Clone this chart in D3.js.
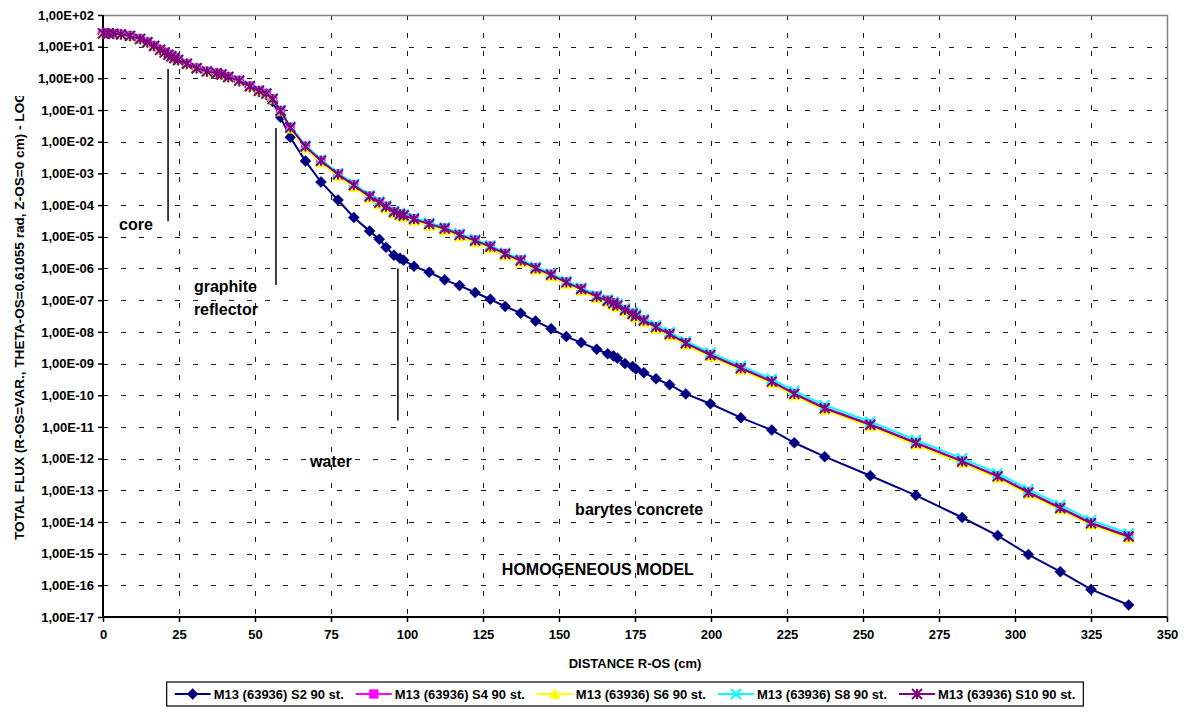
<!DOCTYPE html>
<html>
<head>
<meta charset="utf-8">
<script src="https://cdn.jsdelivr.net/npm/d3@7"></script>
<style>
  body { margin: 0; background: #fff; }
  svg text { font-family: "Liberation Sans", Arial, Helvetica, sans-serif; font-weight: bold; fill: #000; }
</style>
</head>
<body>
<svg id="chart" width="1184" height="713"></svg>
<script>
// Radial distance from the core centre (cm), shared by all five runs
const distance = [
  0, 1.8, 3.4, 5.9, 8.9, 12.2, 14.6, 16.8, 18.8, 20.3,
  21.5, 22.5, 23.5, 24.7, 27.6, 30.8, 34.2, 37.4, 39.0, 41.2,
  44.8, 48.3, 51.3, 53.7, 55.8, 58.4, 61.6, 66.6, 71.7, 77.3,
  82.5, 87.7, 90.9, 93.1, 95.7, 97.7, 98.9, 102.3, 107.3, 112.4,
  117.3, 122.4, 127.4, 132.3, 137.4, 142.3, 147.4, 152.4, 157.3, 162.4,
  166.0, 167.9, 169.2, 171.7, 174.2, 175.3, 177.9, 181.9, 186.4, 191.7,
  199.8, 209.8, 220.0, 227.4, 237.4, 252.4, 267.4, 282.6, 294.3, 304.4,
  314.9, 325.0, 337.4
];

// Total flux per run
const fluxS2 = [
  26.3, 26.3, 25.7, 24.5, 21.9, 17.4, 13.8, 10.5, 7.94, 6.61,
  5.62, 5.01, 4.37, 3.80, 2.88, 2.09, 1.66, 1.45, 1.32, 1.10,
  0.813, 0.537, 0.380, 0.302, 0.186, 0.0589, 0.0138, 2.45e-3, 5.37e-4, 1.45e-4,
  4.07e-5, 1.51e-5, 8.32e-6, 4.68e-6, 2.63e-6, 2.09e-6, 1.82e-6, 1.17e-6, 7.59e-7, 4.37e-7,
  2.88e-7, 1.74e-7, 1.07e-7, 6.31e-8, 3.89e-8, 2.19e-8, 1.26e-8, 7.08e-9, 4.57e-9, 2.82e-9,
  2.04e-9, 1.74e-9, 1.48e-9, 1.00e-9, 8.13e-10, 6.76e-10, 5.13e-10, 3.31e-10, 2.14e-10, 1.10e-10,
  5.37e-11, 1.95e-11, 7.94e-12, 3.16e-12, 1.15e-12, 2.88e-13, 6.92e-14, 1.38e-14, 3.72e-15, 9.33e-16,
  2.69e-16, 7.41e-17, 2.40e-17
];
const fluxS4 = [
  26.5, 26.4, 25.8, 24.6, 22.0, 17.5, 13.9, 10.6, 8.00, 6.65,
  5.65, 5.04, 4.40, 3.83, 2.90, 2.10, 1.67, 1.46, 1.33, 1.11,
  0.858, 0.567, 0.411, 0.334, 0.226, 0.0965, 0.0287, 7.25e-3, 2.58e-3, 9.60e-4,
  4.40e-4, 1.92e-4, 1.24e-4, 9.20e-5, 6.24e-5, 5.30e-5, 4.84e-5, 3.76e-5, 2.60e-5, 1.89e-5,
  1.19e-5, 7.88e-6, 5.09e-6, 2.99e-6, 1.85e-6, 1.06e-6, 6.56e-7, 3.77e-7, 2.33e-7, 1.34e-7,
  9.93e-8, 8.26e-8, 7.03e-8, 5.10e-8, 3.87e-8, 3.29e-8, 2.38e-8, 1.47e-8, 8.85e-9, 4.54e-9,
  1.93e-9, 7.36e-10, 2.80e-10, 1.14e-10, 4.05e-11, 1.22e-11, 3.21e-12, 8.46e-13, 2.86e-13, 8.85e-14,
  2.86e-14, 9.48e-15, 3.61e-15
];
const fluxS6 = [
  26.1, 26.0, 25.4, 24.2, 21.6, 17.2, 13.6, 10.4, 7.85, 6.53,
  5.55, 4.95, 4.31, 3.75, 2.84, 2.06, 1.64, 1.43, 1.30, 1.08,
  0.835, 0.548, 0.395, 0.320, 0.214, 0.0900, 0.0255, 6.30e-3, 2.21e-3, 8.12e-4,
  3.71e-4, 1.62e-4, 1.04e-4, 7.75e-5, 5.25e-5, 4.46e-5, 4.07e-5, 3.16e-5, 2.18e-5, 1.58e-5,
  1.00e-5, 6.60e-6, 4.26e-6, 2.51e-6, 1.55e-6, 8.87e-7, 5.49e-7, 3.16e-7, 1.95e-7, 1.12e-7,
  8.31e-8, 6.91e-8, 5.88e-8, 4.26e-8, 3.24e-8, 2.75e-8, 1.99e-8, 1.23e-8, 7.40e-9, 3.80e-9,
  1.62e-9, 6.16e-10, 2.34e-10, 9.57e-11, 3.38e-11, 1.02e-11, 2.69e-12, 7.07e-13, 2.39e-13, 7.40e-14,
  2.39e-14, 7.93e-15, 3.02e-15
];
const fluxS8 = [
  26.3, 26.3, 25.7, 24.5, 21.9, 17.4, 13.8, 10.5, 7.94, 6.61,
  5.62, 5.01, 4.37, 3.80, 2.88, 2.09, 1.66, 1.45, 1.32, 1.10,
  0.860, 0.575, 0.418, 0.341, 0.232, 0.100, 0.0305, 7.75e-3, 2.76e-3, 1.03e-3,
  4.70e-4, 2.05e-4, 1.32e-4, 9.80e-5, 6.63e-5, 5.64e-5, 5.15e-5, 3.99e-5, 2.76e-5, 2.00e-5,
  1.27e-5, 8.35e-6, 5.39e-6, 3.17e-6, 1.96e-6, 1.13e-6, 6.97e-7, 4.03e-7, 2.49e-7, 1.44e-7,
  1.07e-7, 8.89e-8, 7.60e-8, 5.53e-8, 4.22e-8, 3.60e-8, 2.62e-8, 1.62e-8, 9.83e-9, 5.08e-9,
  2.20e-9, 8.54e-10, 3.30e-10, 1.37e-10, 4.86e-11, 1.46e-11, 3.86e-12, 1.02e-12, 3.44e-13, 1.06e-13,
  3.44e-14, 1.14e-14, 4.34e-15
];
const fluxS10 = [
  26.3, 26.3, 25.7, 24.5, 21.9, 17.4, 13.8, 10.5, 7.94, 6.61,
  5.62, 5.01, 4.37, 3.80, 2.88, 2.09, 1.66, 1.45, 1.32, 1.10,
  0.851, 0.562, 0.407, 0.331, 0.224, 0.0955, 0.0282, 7.08e-3, 2.51e-3, 9.33e-4,
  4.27e-4, 1.86e-4, 1.20e-4, 8.91e-5, 6.03e-5, 5.13e-5, 4.68e-5, 3.63e-5, 2.51e-5, 1.82e-5,
  1.15e-5, 7.59e-6, 4.90e-6, 2.88e-6, 1.78e-6, 1.02e-6, 6.31e-7, 3.63e-7, 2.24e-7, 1.29e-7,
  9.55e-8, 7.94e-8, 6.76e-8, 4.90e-8, 3.72e-8, 3.16e-8, 2.29e-8, 1.41e-8, 8.51e-9, 4.37e-9,
  1.86e-9, 7.08e-10, 2.69e-10, 1.10e-10, 3.89e-11, 1.17e-11, 3.09e-12, 8.13e-13, 2.75e-13, 8.51e-14,
  2.75e-14, 9.12e-15, 3.47e-15
];

const seriesNames = [
  "M13 (63936) S2 90 st.", "M13 (63936) S4 90 st.", "M13 (63936) S6 90 st.",
  "M13 (63936) S8 90 st.", "M13 (63936) S10 90 st."
];
const seriesFlux = [fluxS2, fluxS4, fluxS6, fluxS8, fluxS10];

// Axis ticks
const xTicks = [0, 25, 50, 75, 100, 125, 150, 175, 200, 225, 250, 275, 300, 325, 350];
const yTicks = [1e2, 1e1, 1e0, 1e-1, 1e-2, 1e-3, 1e-4, 1e-5, 1e-6, 1e-7, 1e-8, 1e-9,
                1e-10, 1e-11, 1e-12, 1e-13, 1e-14, 1e-15, 1e-16, 1e-17];

// Material region markers and labels, in data units
const regionLines = [
  { d: 21.4, from: 1.97, to: 3.1e-5 },
  { d: 56.9, from: 2.7e-2, to: 3.0e-7 },
  { d: 97.0, from: 1.0e-6, to: 1.6e-11 }
];
const regionLabels = [
  { lines: ["core"], d: 5.3, flux: 1.6e-5 },
  { lines: ["graphite", "reflector"], d: 29.9, flux: 1.86e-7 },
  { lines: ["water"], d: 68.1, flux: 5.4e-13 },
  { lines: ["barytes concrete"], d: 155.3, flux: 1.7e-14 },
  { lines: ["HOMOGENEOUS MODEL"], d: 131.2, flux: 2.1e-16 }
];

// ---- styling ----
const colors = ["#000080", "#FF00FF", "#FFFF00", "#00FFFF", "#800080"];
const markers = ["diamond", "square", "triangle", "x", "asterisk"];
const markerSize = { diamond: 5.5, square: 5.5, triangle: 5.5, x: 5, asterisk: 5 };

const svg = d3.select("#chart");
const plot = { left: 103, right: 1167, top: 15, bottom: 617 };

const x = d3.scaleLinear().domain([0, 350]).range([plot.left, plot.right]);
const y = d3.scaleLog().domain([1e-17, 1e2]).range([plot.bottom, plot.top]);

const fmtSci = v => {
  const e = Math.round(Math.log10(v));
  return "1,00E" + (e < 0 ? "-" : "+") + String(Math.abs(e)).padStart(2, "0");
};

function markerPath(type, s) {
  switch (type) {
    case "diamond":  return `M0,${-s}L${s},0L0,${s}L${-s},0Z`;
    case "square":   return `M${-s*0.8},${-s*0.8}H${s*0.8}V${s*0.8}H${-s*0.8}Z`;
    case "triangle": return `M0,${-s}L${s},${s*0.8}L${-s},${s*0.8}Z`;
    case "x":        return `M${-s},${-s}L${s},${s}M${s},${-s}L${-s},${s}`;
    case "asterisk": return `M${-s},${-s}L${s},${s}M${s},${-s}L${-s},${s}M0,${-s}V${s}`;
  }
}
const filledMarker = t => t === "diamond" || t === "square" || t === "triangle";

// ---- gridlines ----
const grid = svg.append("g").attr("stroke", "#1a1a1a").attr("stroke-width", 1)
  .attr("stroke-dasharray", "5,13");
grid.selectAll("line.h").data(yTicks.filter(v => v < 1e2 && v > 1e-17)).join("line")
  .attr("x1", plot.left).attr("x2", plot.right)
  .attr("y1", d => Math.round(y(d)) + 0.5).attr("y2", d => Math.round(y(d)) + 0.5);
grid.selectAll("line.v").data(xTicks.filter(v => v > 0 && v < 350)).join("line")
  .attr("y1", plot.top).attr("y2", plot.bottom)
  .attr("x1", d => Math.round(x(d)) + 0.5).attr("x2", d => Math.round(x(d)) + 0.5);

// plot frame: grey top/right, black axes left/bottom
svg.append("path")
  .attr("d", `M${plot.left},${plot.top + 0.5}H${plot.right + 0.5}V${plot.bottom}`)
  .attr("fill", "none").attr("stroke", "#808080").attr("stroke-width", 1.5);

// ---- axes ----
const yAxis = d3.axisLeft(y).tickValues(yTicks).tickFormat(fmtSci).tickSize(5).tickPadding(4);
const gy = svg.append("g").attr("transform", `translate(${plot.left},0)`).call(yAxis);
const xAxis = d3.axisBottom(x).tickValues(xTicks).tickFormat(d3.format("d")).tickSize(5).tickPadding(8);
const gx = svg.append("g").attr("transform", `translate(0,${plot.bottom})`).call(xAxis);
[gx, gy].forEach(g => {
  g.select(".domain").attr("stroke", "#000").attr("stroke-width", 2);
  g.selectAll(".tick line").attr("stroke", "#000").attr("stroke-width", 1.5);
  g.selectAll("text").style("font-size", "13px").style("font-family", "'Liberation Sans', Arial, sans-serif")
    .style("font-weight", "bold").attr("fill", "#000");
});
gy.select(".domain").attr("d", `M0,${plot.top}V${plot.bottom}`);
gx.select(".domain").attr("d", `M${plot.left},0H${plot.right}`);

// axis titles
svg.append("text").attr("x", (plot.left + plot.right) / 2).attr("y", 668)
  .attr("text-anchor", "middle").style("font-size", "13px").text("DISTANCE R-OS (cm)");

svg.append("clipPath").attr("id", "ytitle-clip")
  .append("rect").attr("x", 0).attr("y", 96).attr("width", 60).attr("height", 600);
svg.append("g").attr("clip-path", "url(#ytitle-clip)")
  .append("text").attr("transform", "translate(24,540) rotate(-90)")
  .attr("text-anchor", "start").style("font-size", "13.6px")
  .text("TOTAL FLUX (R-OS=VAR., THETA-OS=0.61055 rad, Z-OS=0 cm) - LOG");

// ---- region annotations ----
svg.append("g").selectAll("line").data(regionLines).join("line")
  .attr("x1", d => x(d.d)).attr("x2", d => x(d.d))
  .attr("y1", d => y(d.from)).attr("y2", d => y(d.to))
  .attr("stroke", "#000").attr("stroke-width", 1.5);

const labels = svg.append("g").selectAll("text").data(regionLabels).join("text")
  .attr("x", d => x(d.d)).attr("y", d => y(d.flux))
  .style("font-size", "16px");
labels.selectAll("tspan").data(d => d.lines.map((t, i) => ({ t, i, d }))).join("tspan")
  .attr("x", o => x(o.d.d)).attr("dy", o => o.i === 0 ? 0 : 23).text(o => o.t);

// ---- series ----
const line = d3.line().x(d => x(d[0])).y(d => y(d[1]));
seriesFlux.forEach((flux, k) => {
  const pts = distance.map((d, i) => [d, flux[i]]);
  const g = svg.append("g");
  g.append("path").datum(pts).attr("d", line)
    .attr("fill", "none").attr("stroke", colors[k]).attr("stroke-width", 2);
  const mk = markers[k];
  g.selectAll("path.m").data(pts).join("path").attr("class", "m")
    .attr("transform", d => `translate(${x(d[0])},${y(d[1])})`)
    .attr("d", markerPath(mk, markerSize[mk]))
    .attr("fill", filledMarker(mk) ? colors[k] : "none")
    .attr("stroke", colors[k]).attr("stroke-width", filledMarker(mk) ? 0.5 : 2);
});

// ---- legend ----
const legend = svg.append("g");
const items = legend.selectAll("g").data(seriesNames).join("g");
let cursor = 0;
items.each(function (name, k) {
  const g = d3.select(this);
  const mk = markers[k];
  g.append("line").attr("x1", 0).attr("x2", 36).attr("y1", 0).attr("y2", 0)
    .attr("stroke", colors[k]).attr("stroke-width", 2);
  g.append("path").attr("transform", "translate(18,0)")
    .attr("d", markerPath(mk, markerSize[mk]))
    .attr("fill", filledMarker(mk) ? colors[k] : "none")
    .attr("stroke", colors[k]).attr("stroke-width", filledMarker(mk) ? 0.5 : 2);
  const t = g.append("text").attr("x", 39).attr("y", 4.5).style("font-size", "13px").text(name);
  const w = 39 + t.node().getComputedTextLength();
  g.attr("transform", `translate(${cursor},0)`);
  cursor += w + 12;
});
const legendW = cursor - 12 + 16;
const legendX = 625 - legendW / 2;
const legendTop = 682, legendH = 24;
legend.insert("rect", ":first-child")
  .attr("x", -8).attr("y", -legendH / 2).attr("width", legendW).attr("height", legendH)
  .attr("fill", "#fff").attr("stroke", "#000").attr("stroke-width", 1.2);
legend.attr("transform", `translate(${legendX + 8},${legendTop + legendH / 2})`);
</script>
</body>
</html>
